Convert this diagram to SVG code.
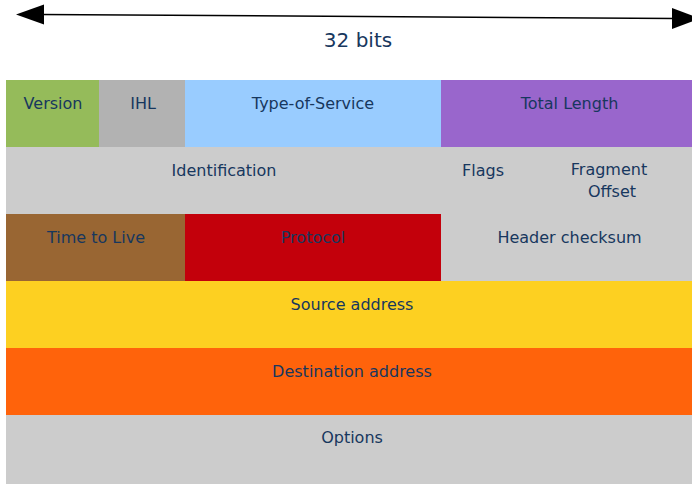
<svg xmlns="http://www.w3.org/2000/svg" width="692" height="484" viewBox="0 0 692 484">
<style>
text{font-family:"DejaVu Sans","Liberation Sans",sans-serif;font-size:16px;fill:#17375E;text-anchor:middle}
.big{font-size:20px}
</style>
<rect width="692" height="484" fill="#FFFFFF"/>
<g id="connectors">
<line x1="40" y1="14.5" x2="676" y2="18.5" stroke="#000" stroke-width="1.5"/>
<polygon points="16,14.5 44,4.5 44,24.5" fill="#000"/>
<polygon points="700,18.5 672,8 672,29" fill="#000"/>
</g>
<g id="width-label"><text class="big" x="358" y="47">32 bits</text></g>
<g id="version"><rect x="6" y="80" width="93" height="67" fill="#95BB5A"/><text x="53" y="109">Version</text></g>
<g id="ihl"><rect x="99" y="80" width="86" height="67" fill="#B2B2B2"/><text x="143" y="109">IHL</text></g>
<g id="tos"><rect x="185" y="80" width="256" height="67" fill="#99CCFF"/><text x="313" y="109">Type-of-Service</text></g>
<g id="total-length"><rect x="441" y="80" width="257" height="67" fill="#9966CC"/><text x="569.5" y="109">Total Length</text></g>
<g id="row2"><rect x="6" y="147" width="692" height="67" fill="#CCCCCC"/></g>
<g id="identification"><text x="224" y="176">Identification</text></g>
<g id="flags"><text x="483" y="176">Flags</text></g>
<g id="fragment-offset"><text x="609" y="175">Fragment</text><text x="612" y="197">Offset</text></g>
<g id="ttl"><rect x="6" y="214" width="179" height="67" fill="#996633"/><text x="96" y="243">Time to Live</text></g>
<g id="protocol"><rect x="185" y="214" width="256" height="67" fill="#C3000B"/><text x="313" y="243">Protocol</text></g>
<g id="checksum"><rect x="441" y="214" width="257" height="67" fill="#CCCCCC"/><text x="569.5" y="243">Header checksum</text></g>
<g id="source"><rect x="6" y="281" width="692" height="67" fill="#FDD021"/><text x="352" y="310">Source address</text></g>
<g id="destination"><rect x="6" y="348" width="692" height="67" fill="#FF630B"/><text x="352" y="377">Destination address</text></g>
<g id="options"><rect x="6" y="415" width="692" height="69" fill="#CCCCCC"/><text x="352" y="443">Options</text></g>
</svg>
